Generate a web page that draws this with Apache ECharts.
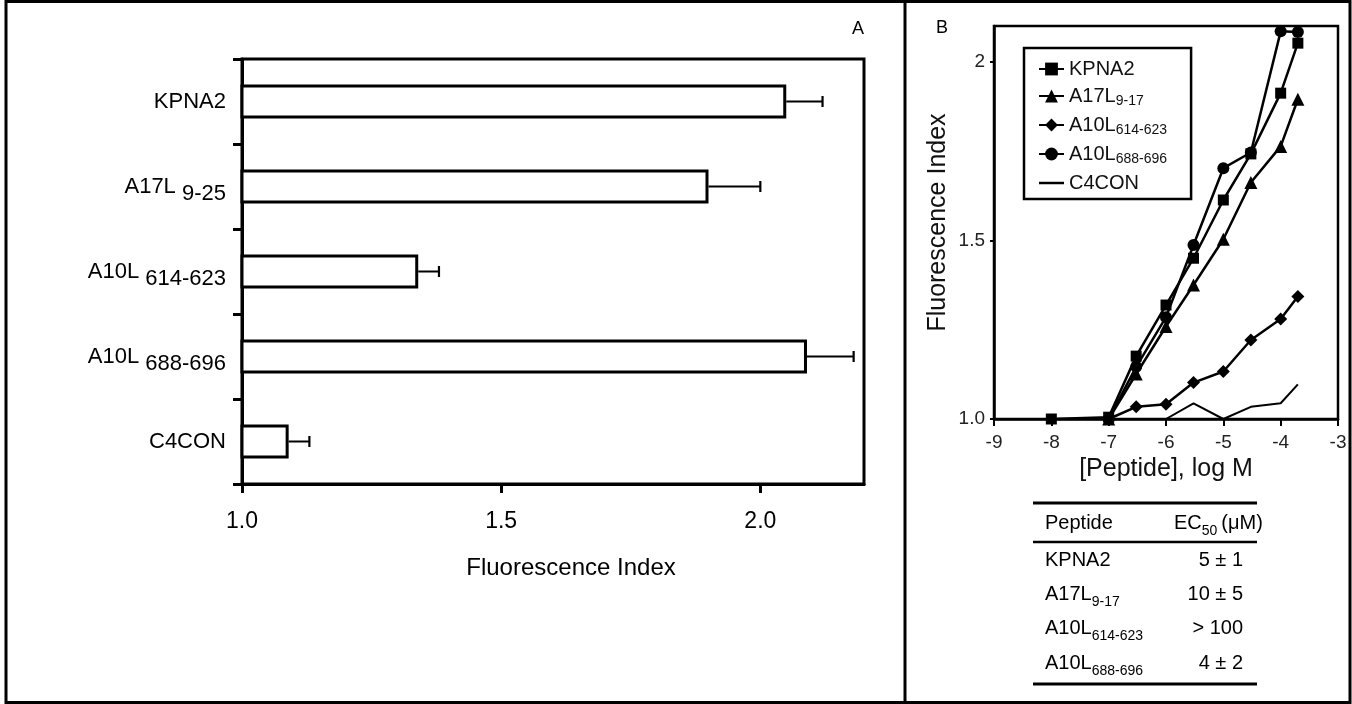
<!DOCTYPE html>
<html>
<head>
<meta charset="utf-8">
<script src="https://cdn.jsdelivr.net/npm/echarts@6/dist/echarts.min.js"></script>
<style>
html,body{margin:0;padding:0;background:#fff;}
#c{width:1352px;height:704px;}
</style>
</head>
<body>
<div id="c"></div>
<script>
// ---------- Panel A data ----------
var catMain = ['KPNA2', 'A17L', 'A10L', 'A10L', 'C4CON'];
var catSub = ['', '9-25', '614-623', '688-696', ''];
var barValues = [2.05, 1.90, 1.34, 2.09, 1.09];
var errValues = [0.07, 0.10, 0.04, 0.09, 0.04];
var xTicksA = [1.0, 1.5, 2.0];

// ---------- Panel B data ----------
var logConc = [-8, -7, -6.52, -6, -5.52, -5, -4.52, -4, -3.7];
var kpna2 = [1.0, 1.005, 1.176, 1.319, 1.450, 1.613, 1.742, 1.912, 2.052];
var a17l = [null, 1.0, 1.126, 1.259, 1.375, 1.503, 1.662, 1.763, 1.895];
var a10l614 = [null, 1.0, 1.034, 1.041, 1.102, 1.133, 1.221, 1.280, 1.343];
var a10l688 = [null, 1.0, 1.146, 1.285, 1.487, 1.702, 1.746, 2.085, 2.083];
var c4con = [1.0, 1.0, 1.0, 1.0, 1.044, 1.0, 1.034, 1.044, 1.097];
var yTicksB = [1.0, 1.5, 2.0];

// ---------- Table data ----------
var tabMain = ['KPNA2', 'A17L', 'A10L', 'A10L'];
var tabSub = ['', '9-17', '614-623', '688-696'];
var tabEC50 = ['5 \u00b1 1', '10 \u00b1 5', '> 100', '4 \u00b1 2'];

var FONT = "'Liberation Sans', Arial, Helvetica, sans-serif";
var categories = catMain.map(function (m, i) { return catSub[i] ? m + ' ' + catSub[i] : m; });

function pairs(ys) { return logConc.map(function (x, i) { return [x, ys[i]]; }); }

var chart = echarts.init(document.getElementById('c'), null, {renderer: 'canvas'});

var graphics = [];
// outer frame and divider
graphics.push({type: 'rect', shape: {x: 6, y: 1.5, width: 1344, height: 701}, style: {fill: null, stroke: '#000', lineWidth: 3}, silent: true});
graphics.push({type: 'line', shape: {x1: 905, y1: 0, x2: 905, y2: 704}, style: {stroke: '#000', lineWidth: 3}, silent: true});
// panel letters
graphics.push({type: 'text', x: 858, y: 29, style: {text: 'A', font: '18px ' + FONT, fill: '#000', align: 'center', verticalAlign: 'middle'}});
graphics.push({type: 'text', x: 942, y: 28, style: {text: 'B', font: '18px ' + FONT, fill: '#000', align: 'center', verticalAlign: 'middle'}});

// table
var tRich = {
  m: {fontSize: 20, fontFamily: FONT, color: '#111', lineHeight: 30},
  s: {fontSize: 14, fontFamily: FONT, color: '#111', lineHeight: 15, verticalAlign: 'bottom'}
};
graphics.push({type: 'line', shape: {x1: 1033, y1: 503, x2: 1257, y2: 503}, style: {stroke: '#000', lineWidth: 3}});
graphics.push({type: 'line', shape: {x1: 1033, y1: 542, x2: 1257, y2: 542}, style: {stroke: '#000', lineWidth: 2.5}});
graphics.push({type: 'line', shape: {x1: 1033, y1: 684, x2: 1257, y2: 684}, style: {stroke: '#000', lineWidth: 3}});
graphics.push({type: 'text', x: 1045, y: 523, style: {text: '{m|Peptide}', rich: tRich, align: 'left', verticalAlign: 'middle'}});
graphics.push({type: 'text', x: 1174, y: 523, style: {text: '{m|EC}{s|50}{m|\u2009(\u03bcM)}', rich: tRich, align: 'left', verticalAlign: 'middle'}});
var rowY = [560, 594, 628, 663];
tabMain.forEach(function (m, i) {
  var t = '{m|' + m + '}' + (tabSub[i] ? '{s|' + tabSub[i] + '}' : '');
  graphics.push({type: 'text', x: 1045, y: rowY[i], style: {text: t, rich: tRich, align: 'left', verticalAlign: 'middle'}});
  graphics.push({type: 'text', x: 1243, y: rowY[i], style: {text: '{m|' + tabEC50[i] + '}', rich: tRich, align: 'right', verticalAlign: 'middle'}});
});

var lineBase = {type: 'line', xAxisIndex: 1, yAxisIndex: 1, lineStyle: {color: '#000', width: 2.5}, itemStyle: {color: '#000'}, connectNulls: false, animation: false};

function lseries(name, ys, symbol, size, extra) {
  var s = Object.assign({}, lineBase, {name: name, data: pairs(ys), symbol: symbol, symbolSize: size});
  return Object.assign(s, extra || {});
}

var option = {
  animation: false,
  backgroundColor: '#fff',
  textStyle: {fontFamily: FONT, color: '#000'},
  grid: [
    {left: 242, top: 59, width: 622, height: 425, show: true, borderColor: '#000', borderWidth: 3, backgroundColor: 'transparent'},
    {left: 994, top: 26, width: 344, height: 393, show: true, borderColor: '#000', borderWidth: 2.5, backgroundColor: 'transparent'}
  ],
  xAxis: [
    {
      type: 'value', gridIndex: 0, min: 1.0, max: 2.2, interval: 0.5,
      axisLine: {show: true, lineStyle: {color: '#000', width: 3}},
      axisTick: {show: true, length: 9, lineStyle: {color: '#000', width: 3}, customValues: xTicksA},
      axisLabel: {fontSize: 23, color: '#000', fontFamily: FONT, margin: 26, customValues: xTicksA,
        formatter: function (v) { return v.toFixed(1); }},
      splitLine: {show: false},
      name: 'Fluorescence Index', nameLocation: 'middle', nameGap: 72,
      nameTextStyle: {fontSize: 24, color: '#000', fontFamily: FONT, padding: [0, 0, 0, 36]}
    },
    {
      type: 'value', gridIndex: 1, min: -9, max: -3, interval: 1,
      axisLine: {show: true, onZero: false, lineStyle: {color: '#000', width: 2.5}},
      axisTick: {show: true, length: 7, lineStyle: {color: '#000', width: 2}},
      axisLabel: {fontSize: 19, color: '#222', fontFamily: FONT, margin: 14},
      splitLine: {show: false},
      name: '[Peptide], log M', nameLocation: 'middle', nameGap: 37,
      nameTextStyle: {fontSize: 25, color: '#111', fontFamily: FONT}
    }
  ],
  yAxis: [
    {
      type: 'category', gridIndex: 0, data: categories, inverse: true,
      axisLine: {show: true, lineStyle: {color: '#000', width: 3}},
      axisTick: {show: true, length: 9, lineStyle: {color: '#000', width: 3}},
      axisLabel: {
        margin: 16, color: '#000', fontFamily: FONT,
        formatter: function (v, i) {
          return '{m|' + catMain[i] + '}' + (catSub[i] ? '{s| ' + catSub[i] + '}' : '');
        },
        rich: {
          m: {fontSize: 22, fontFamily: FONT, color: '#000'},
          s: {fontSize: 22, fontFamily: FONT, color: '#000', padding: [14, 0, 0, 0]}
        }
      },
      splitLine: {show: false}
    },
    {
      type: 'value', gridIndex: 1, min: 1.0, max: 2.1, interval: 0.5,
      axisLine: {show: true, onZero: false, lineStyle: {color: '#000', width: 2.5}},
      axisTick: {show: true, length: 4, lineStyle: {color: '#000', width: 2}, customValues: yTicksB},
      axisLabel: {fontSize: 19, color: '#222', fontFamily: FONT, margin: 9, customValues: yTicksB,
        formatter: function (v) { return Math.abs(v - 2) < 1e-9 ? '2' : v.toFixed(1); }},
      splitLine: {show: false},
      name: 'Fluorescence Index', nameLocation: 'middle', nameGap: 43,
      nameTextStyle: {fontSize: 25, color: '#111', fontFamily: FONT}
    }
  ],
  legend: {
    orient: 'vertical', left: 1024, top: 48,
    data: ['KPNA2', 'A17L9-17', 'A10L614-623', 'A10L688-696', {name: 'C4CON', icon: 'path://M0,0L24,0L24,2.4L0,2.4Z'}],
    borderColor: '#000', borderWidth: 2.5, borderRadius: 0,
    padding: [11, 24, 6, 14], itemGap: 7, itemWidth: 25, itemHeight: 16,
    backgroundColor: '#fff',
    inactiveColor: '#000',
    textStyle: {fontSize: 20, color: '#111', fontFamily: FONT,
      rich: {
        m: {fontSize: 20, fontFamily: FONT, color: '#111', lineHeight: 24},
        s: {fontSize: 14, fontFamily: FONT, color: '#111', lineHeight: 14, verticalAlign: 'bottom'}
      }
    },
    formatter: function (name) {
      var map = {'A17L9-17': ['A17L', '9-17'], 'A10L614-623': ['A10L', '614-623'], 'A10L688-696': ['A10L', '688-696']};
      if (map[name]) return '{m|' + map[name][0] + '}{s|' + map[name][1] + '}';
      return '{m|' + name + '}';
    },
    selectedMode: false
  },
  series: [
    {
      type: 'bar', xAxisIndex: 0, yAxisIndex: 0, data: barValues, barWidth: 34,
      itemStyle: {color: '#fff', borderColor: '#000', borderWidth: 3},
      silent: true
    },
    {
      type: 'custom', xAxisIndex: 0, yAxisIndex: 0,
      data: barValues.map(function (v, i) { return [v, i, v + errValues[i]]; }),
      encode: {x: 0, y: 1},
      renderItem: function (params, api) {
        var p0 = api.coord([api.value(0), api.value(1)]);
        var p1 = api.coord([api.value(2), api.value(1)]);
        return {type: 'group', children: [
          {type: 'line', shape: {x1: p0[0], y1: p0[1], x2: p1[0], y2: p1[1]}, style: {stroke: '#000', lineWidth: 2}},
          {type: 'line', shape: {x1: p1[0], y1: p1[1] - 5.5, x2: p1[0], y2: p1[1] + 5.5}, style: {stroke: '#000', lineWidth: 2.2}}
        ]};
      },
      z: 5, silent: true
    },
    lseries('C4CON', c4con, 'none', 0, {lineStyle: {color: '#000', width: 2}}),
    lseries('A10L614-623', a10l614, 'diamond', 13),
    lseries('A17L9-17', a17l, 'triangle', 13),
    lseries('A10L688-696', a10l688, 'circle', 12),
    lseries('KPNA2', kpna2, 'rect', 11)
  ],
  graphic: graphics
};
chart.setOption(option);
</script>
</body>
</html>
